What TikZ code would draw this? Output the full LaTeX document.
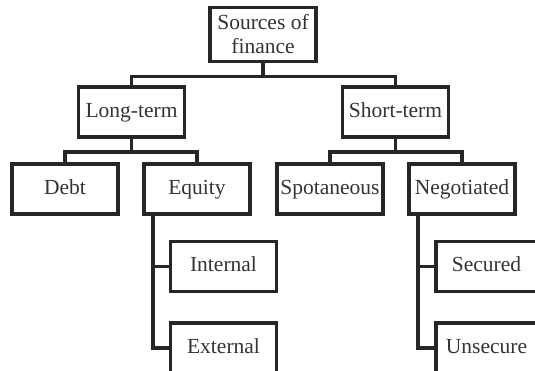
\documentclass[tikz,border=0pt]{standalone}
\usepackage{fontspec}
\setmainfont{Liberation Serif}
\usepackage{tikz}

\begin{document}
\begin{tikzpicture}[x=1pt,y=-1pt,line width=3.6pt,draw=black!85,
  every node/.style={font=\fontsize{21.5}{24}\selectfont,text=black!80},
  box/.style={draw,inner sep=0pt,minimum width=106pt,minimum height=50pt,
    text height=14pt,text depth=4pt,align=center}]
\useasboundingbox (0,0) rectangle (535,370);
\clip (0,0) rectangle (535,370);
\node[box,minimum height=54pt,text height=,text depth=] (root) at (263,34.5) {Sources of\\finance};
\foreach \nm/\x/\y/\txt in {lt/131.5/112/Long-term,st/395.5/112/Short-term,
  debt/65/189/Debt,eq/197/189/Equity,spo/330/189/Spotaneous,neg/462/189/Negotiated,
  int/223.5/266.5/Internal,ext/223.5/348/External}
 \node[box] (\nm) at (\x,\y) {\txt};
\foreach \nm/\y/\txt in {sec/266.5/Secured,uns/348/Unsecure}
 \node[box,minimum width=101pt] (\nm) at (486.5,\y) {\txt};
\foreach \p/\c in {root/lt,root/st,lt/debt,lt/eq,st/spo,st/neg}
 \draw (\p.south) -- ++(0,13) -| (\c.north);
\foreach \p/\c in {eq/int,eq/ext,neg/sec,neg/uns}
 \draw ([xshift=11pt]\p.south west) |- (\c.west);
\end{tikzpicture}
\end{document}
